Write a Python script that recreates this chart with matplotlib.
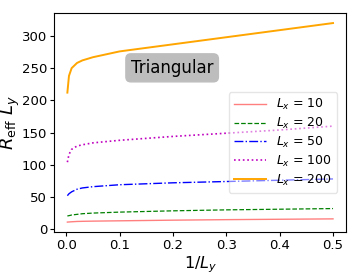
import matplotlib
matplotlib.use('Agg')
import matplotlib.pyplot as plt

# 1/L_y values
inv_ly = [0.002, 0.005, 0.01, 0.02, 0.03, 0.05, 0.1, 0.2, 0.3, 0.4, 0.5]

# R_eff * L_y for each L_x
r_lx10 = [11.0, 11.2, 11.5, 12.0, 12.2, 12.5, 13.0, 14.0, 14.8, 15.4, 16.0]
r_lx20 = [20.5, 21.0, 22.0, 23.0, 24.0, 25.0, 26.5, 28.5, 30.0, 31.0, 32.0]
r_lx50 = [52, 55, 58, 62, 64, 66, 69, 72, 74, 76, 78]
r_lx100 = [104, 116, 124, 129, 131, 134, 138, 144, 149, 154, 160]
r_lx200 = [212, 238, 250, 258, 262, 267, 276, 287, 298, 309, 320]

labels = [r'$L_x$ = 10', r'$L_x$ = 20', r'$L_x$ = 50', r'$L_x$ = 100', r'$L_x$ = 200']


def main():
    fig = plt.figure(figsize=(3.63, 2.73), dpi=100)
    ax = fig.add_axes([0.149, 0.15, 0.805, 0.802])

    ax.plot(inv_ly, r_lx10, '-', color='r', alpha=0.5, lw=1.0, label=labels[0])
    ax.plot(inv_ly, r_lx20, '--', color='g', lw=0.9, label=labels[1])
    ax.plot(inv_ly, r_lx50, '-.', color='b', lw=1.0, label=labels[2])
    ax.plot(inv_ly, r_lx100, ':', color='m', lw=1.2, label=labels[3])
    ax.plot(inv_ly, r_lx200, '-', color='orange', lw=1.4, label=labels[4])

    ax.set_xlabel(r'$1/L_y$', fontsize=11.5)
    ax.xaxis.set_label_coords(0.5, -0.1)
    ax.set_ylabel(r'$R_{\rm eff}\ L_y$', fontsize=13, labelpad=0)
    ax.tick_params(labelsize=9.5, length=3, pad=2)
    ax.set_yticks([0, 50, 100, 150, 200, 250, 300])

    ax.text(0.404, 0.75, 'Triangular', transform=ax.transAxes, fontsize=12,
            ha='center', va='center',
            bbox=dict(boxstyle='round,pad=0.3', facecolor='#bdbdbd', edgecolor='#bdbdbd'))

    ax.legend(loc='center right', bbox_to_anchor=(0.99, 0.41), fontsize=9,
              handlelength=2.6, framealpha=0.5, labelspacing=0.3,
              borderpad=0.4)

    fig.savefig('out.png', dpi=100)


if __name__ == '__main__':
    main()
